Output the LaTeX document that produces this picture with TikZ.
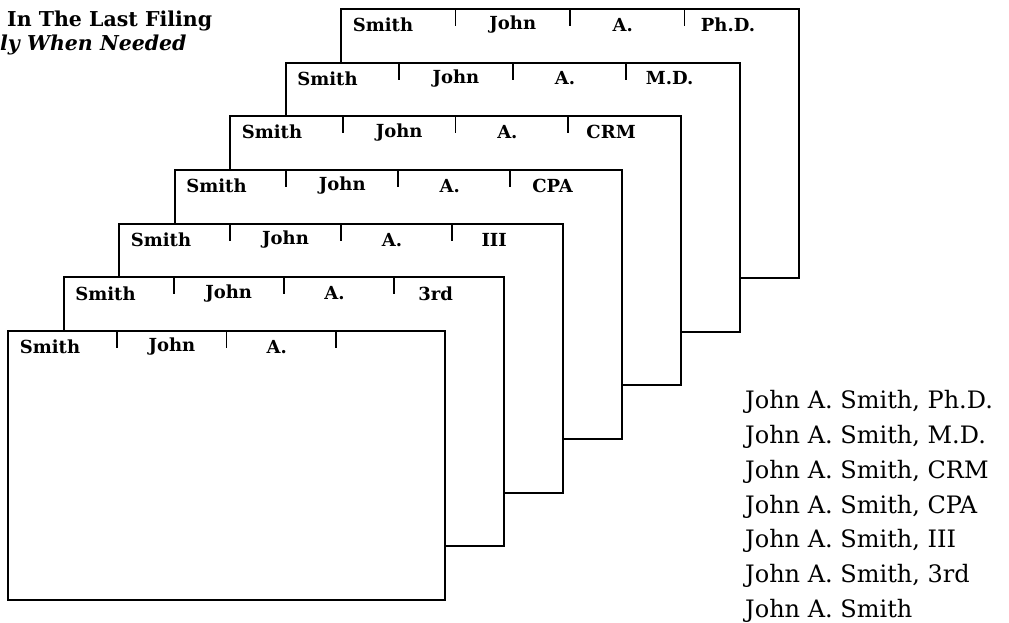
\documentclass[tikz,border=0pt]{standalone}
\usepackage{fontspec}
\setmainfont{DejaVu Serif}
\usetikzlibrary{calc,positioning}
\tikzset{card/.style={rectangle, draw=black, fill=white, line width=2pt, inner sep=0pt, outer sep=0pt, anchor=north west, minimum height=269pt}}
\tikzset{tab/.style={font=\bfseries\fontsize{18}{21}\selectfont, inner sep=0pt}}
\tikzset{tick/.style={line width=1.8pt}}
\tikzset{note/.style={font=\bfseries\fontsize{20.5}{24}\selectfont, inner sep=0pt, anchor=west}}
\tikzset{entry/.style={font=\fontsize{24}{34.7}\selectfont, inner sep=0pt, align=left, anchor=north west}}

\begin{document}
\begin{tikzpicture}[x=1pt, y=-1pt]
%
  \useasboundingbox (0,0) rectangle (1009,622);
  \node[note] (last) at (7,21) {In The Last Filing};
  \node[note, font=\bfseries\itshape\fontsize{20.5}{24}\selectfont] (needed) at (0,45) {ly When Needed};
%
  \foreach \i/\sfx in {6/Ph.D., 5/M.D., 4/CRM, 3/CPA, 2/III, 1/3rd, 0/} {
    \pgfmathsetmacro\xl{8+55.5*\i}
    \pgfmathsetmacro\yt{331-53.7*\i}
    \pgfmathsetmacro\w{437+3.5*\i}
    \node[card, minimum width=\w pt] (card\i) at (\xl,\yt) {};
    \foreach \f in {0.25,0.5,0.75}
      \draw[tick] ($(card\i.north west)!\f!(card\i.north east)$) -- ++(0,17);
    \node[tab] (smith\i) at ($(card\i.north west)+(42,16)$) {Smith};
    \node[tab] (john\i) at ($(card\i.north west)!0.375!(card\i.north east)+(0,16)$) {John};
    \node[tab] (init\i) at ($(card\i.north west)!0.615!(card\i.north east)+(0,16)$) {A.};
    \node[tab] (sfx\i) at ($(card\i.north west)!0.845!(card\i.north east)+(0,16)$) {\sfx};
  }
%
  \node[entry] (names) at (745,390.5) {John A. Smith, Ph.D.\\
    John A. Smith, M.D.\\
    John A. Smith, CRM\\
    John A. Smith, CPA\\
    John A. Smith, III\\
    John A. Smith, 3rd\\
    John A. Smith};
%
\end{tikzpicture}
\end{document}
